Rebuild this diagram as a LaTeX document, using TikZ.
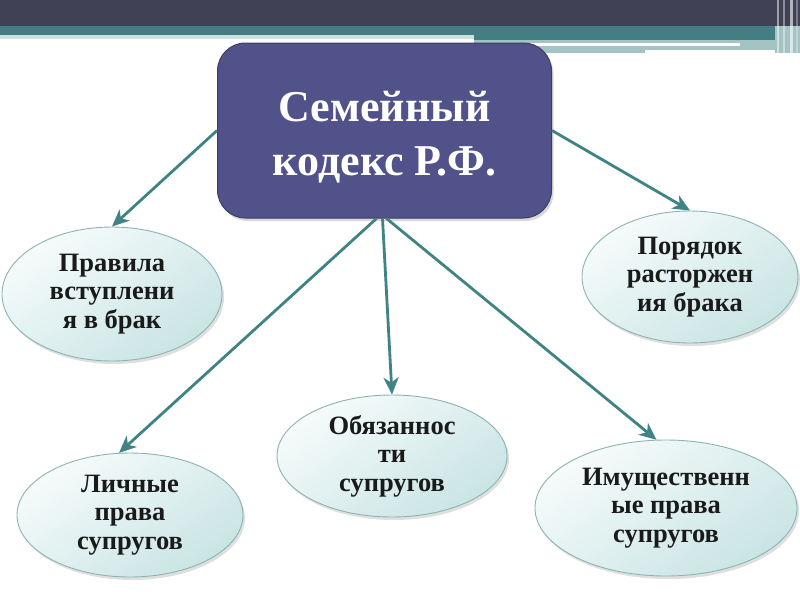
\documentclass[tikz,border=0pt]{standalone}
\usepackage{fontspec}
\setmainfont{Liberation Serif}
\usetikzlibrary{shapes.geometric,shadows,arrows.meta}
\definecolor{barDark}{HTML}{414155}
\definecolor{barTeal}{HTML}{437E82}
\definecolor{barLight}{HTML}{A4C4C4}
\definecolor{barPale}{HTML}{CFE0E0}
\definecolor{boxFill}{HTML}{52528A}
\definecolor{boxLine}{HTML}{3C3C66}
\definecolor{arrowCol}{HTML}{3F8385}
\definecolor{ellTop}{HTML}{F6FBFB}
\definecolor{ellBot}{HTML}{C9E4E4}
\definecolor{ellLine}{HTML}{8DB3B3}
\definecolor{txt}{HTML}{1A1A1A}
\tikzset{
  mainbox/.style={rectangle, rounded corners=28pt, draw=boxLine, line width=1pt,
    fill=boxFill, text=white, align=center, inner sep=0pt,
    font=\fontsize{44}{54}\selectfont\bfseries,
    drop shadow={opacity=0.3, shadow xshift=2pt, shadow yshift=-3pt}},
  topic/.style={ellipse, draw=ellLine, line width=0.9pt, inner sep=0pt,
    top color=ellTop, bottom color=ellBot, shading angle=35,
    text=txt, align=center,
    font=\fontsize{26.5}{28.5}\selectfont\bfseries,
    drop shadow={opacity=0.25, shadow xshift=2pt, shadow yshift=-3pt}},
  link/.style={draw=arrowCol, line width=2.8pt,
    -{Stealth[length=17pt,width=15pt,inset=5pt]}}
}
\begin{document}
\begin{tikzpicture}[x=1pt,y=-1pt]
\useasboundingbox (0,0) rectangle (800,600);
\fill[white] (0,0) rectangle (800,600);
% top decorative bar
\fill[barPale] (0,34) rectangle (474,39);
\fill[barLight] (474,39) rectangle (775,53);
\fill[white] (520,43) rectangle (740,46);
\fill[white] (645,50) rectangle (775,53);
\fill[barDark] (0,0) rectangle (800,26);
\fill[barTeal] (0,26) rectangle (474,35);
\fill[barTeal] (474,26) rectangle (800,40);
\fill[barLight] (775,26) rectangle (800,53);
\fill[white, opacity=0.5] (777,0) rectangle (779,53);
\fill[white, opacity=0.4] (783,0) rectangle (785,53);
\fill[white, opacity=0.6] (790,0) rectangle (793,53);
\fill[white, opacity=0.3] (796,0) rectangle (798,53);
% nodes
\node[mainbox, minimum width=334pt, minimum height=175pt] (main) at (384.5,130.5)
  {\rule{0pt}{44pt}Семейный\\кодекс Р.Ф.};
\node[topic, minimum width=220pt, minimum height=134pt] (e1) at (112,294)
  {Правила\\вступлени\\я в брак};
\node[topic, minimum width=216pt, minimum height=132pt] (e2) at (690,277)
  {Порядок\\расторжен\\ия брака};
\node[topic, minimum width=230pt, minimum height=122pt] (e3) at (392,456)
  {Обязаннос\\ти\\супругов};
\node[topic, minimum width=262pt, minimum height=136pt] (e4) at (666,508)
  {Имущественн\\ые права\\супругов};
\node[topic, minimum width=226pt, minimum height=124pt] (e5) at (130,515)
  {Личные\\права\\супругов};
% connectors
\draw[link] (main.west) -- (e1.north);
\draw[link] (main.east) -- (e2.north);
\draw[link] ([xshift=-8pt]main.south) -- (e5.100);
\draw[link] ([xshift=-2pt]main.south) -- (e3.north);
\draw[link] ([xshift=2pt]main.south) -- (e4.98);
\end{tikzpicture}
\end{document}
